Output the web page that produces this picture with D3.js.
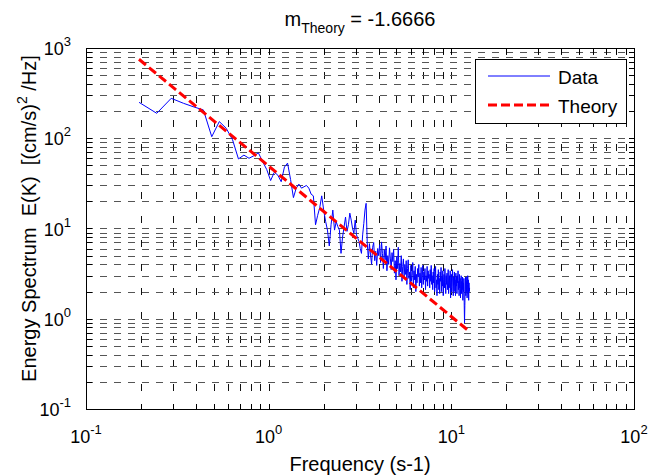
<!DOCTYPE html>
<html>
<head>
<meta charset="utf-8">
<script src="https://cdn.jsdelivr.net/npm/d3@7"></script>
<style>
    body { margin: 0; background: #fff; }
    svg text { font-family: Arial, "Liberation Sans", Helvetica, sans-serif; fill: #000; }
</style>
</head>
<body>
<div id="chart"></div>
<script>

// Spectrum bins: index of the first bin and bin width (Hz)
const firstBin = 4;
const binWidth = 0.0488;

// Measured energy spectrum, one value per bin
const spectrumValues = [
    250, 189, 277, 244, 222, 206, 104, 153, 129, 96,
    59, 65, 60, 64, 69, 55, 45, 34, 42, 39,
    33, 48, 53, 35, 22, 28, 31, 28, 29, 30,
    28, 24, 23, 11, 14, 17, 23, 16, 12, 9.6,
    6.4, 11, 16, 9.6, 11.9, 10.5, 9.6, 5.3, 8, 10.4,
    13.4, 9.3, 11, 14.8, 12.4, 10, 8.9, 12.4, 8.5, 7.8,
    7.2, 6, 5.3, 8.5, 11.4, 16, 19, 6.9,
    4.6, 6.8, 5.1, 4.0, 6.2, 7.0, 4.4, 5.6, 3.9, 6.0, 5.0, 6.6,
    4.2, 7.1, 5.3, 3.6, 5.8, 4.5, 6.4, 3.4, 5.0, 4.0, 6.1, 4.7, 3.5, 5.4, 4.3,
    5.9, 3.2, 4.4, 2.7, 4.9, 3.6, 6.2, 3.0, 4.1, 3.3, 5.0, 2.6, 3.8, 4.6, 2.9, 4.0, 3.1, 4.4,
    2.4, 3.6, 4.5, 2.8, 3.3, 2.1, 3.9, 2.6, 3.0, 4.2, 2.2, 3.4, 2.7, 3.8, 2.0, 3.1, 2.5, 3.6, 2.9, 4.0, 2.3,
    3.2, 2.5, 3.7, 2.2, 2.9, 3.9, 2.4, 3.3, 2.7, 3.6, 2.1, 3.0, 2.6, 3.8, 2.3, 3.4, 2.8, 3.1, 2.2, 3.5,
    2.6, 3.9, 2.4, 3.0, 2.1, 3.3,
    2.5, 3.6, 2.0, 2.9, 3.8, 2.2, 2.7, 1.8, 3.1, 2.4, 3.5, 2.1, 2.8, 1.9, 3.3, 2.6, 3.7, 2.0, 2.9, 2.3,
    3.4, 1.8, 2.7, 3.1, 2.2, 3.6, 2.5, 1.9, 3.0, 2.4,
    3.2, 2.1, 2.7, 3.5, 1.9, 2.6, 3.0, 2.2, 3.4, 1.7, 2.5, 3.1, 2.0, 2.8, 3.5, 2.3, 1.8, 2.9, 2.4, 3.3,
    2.0, 2.7, 1.8, 3.2, 2.3, 2.9, 1.9, 3.0, 2.5, 3.4, 2.1, 2.6, 1.8, 3.1,
    2.2, 2.8, 1.7, 2.4, 3.0, 1.9, 2.6, 2.1, 2.9, 1.6, 2.5, 2.0, 2.8, 1.5, 0.9, 1.4, 2.3, 2.9, 1.8, 2.6,
    2.0, 2.9, 1.7, 2.4, 3.0, 1.9, 2.7, 1.6, 2.5, 2.0, 2.2
];

// Theory line end points (slope -5/3 on log-log axes)
const theoryFreq = [0.195, 12.59];
const theoryValues = [750, 0.72];

// Axis ticks
const xTickExponents = [-1, 0, 1, 2];
const yTickExponents = [-1, 0, 1, 2, 3];
const minorMultipliers = [2, 3, 4, 5, 6, 7, 8, 9];

const legendLabels = ["Data", "Theory"];


class SpectrumChart {

    constructor(_parentElement) {
        this.parentElement = _parentElement;

        this.fontSize = 20;
        this.tickFontSize = 18;
        this.initVis();
    }

    initVis() {
        let vis = this;

        // Set margin
        vis.margin = { top: 48, right: 17, bottom: 66, left: 86 };

        vis.width = 651 - vis.margin.left - vis.margin.right;
        vis.height = 475 - vis.margin.top - vis.margin.bottom;

        vis.svg = d3.select("#" + vis.parentElement).append("svg")
            .attr("width", vis.width + vis.margin.left + vis.margin.right)
            .attr("height", vis.height + vis.margin.top + vis.margin.bottom)
            .append("g")
            .attr("transform", "translate(" + vis.margin.left + "," + vis.margin.top + ")");

        vis.x = d3.scaleLog()
            .domain([Math.pow(10, xTickExponents[0]), Math.pow(10, xTickExponents[xTickExponents.length - 1])])
            .range([0, vis.width]);

        vis.y = d3.scaleLog()
            .domain([Math.pow(10, yTickExponents[0]), Math.pow(10, yTickExponents[yTickExponents.length - 1])])
            .range([vis.height, 0]);

        vis.svg.append("defs").append("clipPath")
            .attr("id", "plot-clip")
            .append("rect")
            .attr("width", vis.width)
            .attr("height", vis.height);

        vis.wrangleData();
    }

    wrangleData() {
        let vis = this;

        vis.displayData = spectrumValues.map((v, i) => ({ f: (firstBin + i) * binWidth, v: v }));
        vis.theoryData = theoryFreq.map((f, i) => ({ f: f, v: theoryValues[i] }));

        // major + minor tick values for each log axis
        let allTicks = (exps) => {
            let out = [];
            exps.forEach((e, i) => {
                out.push({ v: Math.pow(10, e), major: true, e: e });
                if (i < exps.length - 1) {
                    minorMultipliers.forEach(m => out.push({ v: m * Math.pow(10, e), major: false }));
                }
            });
            return out;
        };
        vis.xTicks = allTicks(xTickExponents);
        vis.yTicks = allTicks(yTickExponents);

        vis.updateVis();
    }

    updateVis() {
        let vis = this;
        let px = v => Math.round(vis.x(v)) + 0.5;
        let py = v => Math.round(vis.y(v)) + 0.5;

        // Grid
        vis.svg.append("g").attr("class", "grid-x")
            .selectAll("line")
            .data(vis.xTicks)
            .enter().append("line")
            .attr("x1", d => px(d.v)).attr("x2", d => px(d.v))
            .attr("y1", 0).attr("y2", vis.height)
            .attr("stroke", "#111")
            .attr("stroke-dasharray", "7,17")
            .attr("shape-rendering", "crispEdges");

        vis.svg.append("g").attr("class", "grid-y")
            .selectAll("line")
            .data(vis.yTicks)
            .enter().append("line")
            .attr("x1", 0).attr("x2", vis.width)
            .attr("y1", d => py(d.v)).attr("y2", d => py(d.v))
            .attr("stroke", "#555")
            .attr("stroke-dasharray", "7,7")
            .attr("shape-rendering", "crispEdges");

        // Lines
        let line = d3.line()
            .x(d => vis.x(d.f))
            .y(d => vis.y(d.v));

        let plot = vis.svg.append("g").attr("clip-path", "url(#plot-clip)");

        plot.append("path")
            .datum(vis.displayData)
            .attr("fill", "none")
            .attr("stroke", "#0000ff")
            .attr("stroke-width", 1)
            .attr("d", line);

        plot.append("path")
            .datum(vis.theoryData)
            .attr("fill", "none")
            .attr("stroke", "#ff0000")
            .attr("stroke-width", 3)
            .attr("stroke-dasharray", "9,4")
            .attr("d", line);

        // Box
        vis.svg.append("rect")
            .attr("x", 0.5).attr("y", 0.5)
            .attr("width", vis.width).attr("height", vis.height)
            .attr("fill", "none")
            .attr("stroke", "#000")
            .attr("shape-rendering", "crispEdges");

        // Tick marks on all four sides, pointing inward
        let tickLen = 5.5;
        let ticks = vis.svg.append("g").attr("class", "ticks")
            .attr("stroke", "#000")
            .attr("shape-rendering", "crispEdges");

        vis.xTicks.forEach(d => {
            ticks.append("line").attr("x1", px(d.v)).attr("x2", px(d.v)).attr("y1", vis.height).attr("y2", vis.height - tickLen);
            ticks.append("line").attr("x1", px(d.v)).attr("x2", px(d.v)).attr("y1", 0).attr("y2", tickLen);
        });
        vis.yTicks.forEach(d => {
            ticks.append("line").attr("y1", py(d.v)).attr("y2", py(d.v)).attr("x1", 0).attr("x2", tickLen);
            ticks.append("line").attr("y1", py(d.v)).attr("y2", py(d.v)).attr("x1", vis.width).attr("x2", vis.width - tickLen);
        });

        // Tick labels
        let powerLabel = (sel, e) => {
            sel.append("tspan").text("10");
            sel.append("tspan").attr("dy", -9).attr("font-size", 13).text(e);
        };

        vis.svg.append("g").attr("class", "x-labels")
            .selectAll("text")
            .data(vis.xTicks.filter(d => d.major))
            .enter().append("text")
            .attr("x", d => vis.x(d.v))
            .attr("y", vis.height + 34)
            .attr("text-anchor", "middle")
            .attr("font-size", vis.tickFontSize)
            .each(function (d) { powerLabel(d3.select(this), d.e); });

        vis.svg.append("g").attr("class", "y-labels")
            .selectAll("text")
            .data(vis.yTicks.filter(d => d.major))
            .enter().append("text")
            .attr("x", -15)
            .attr("y", d => vis.y(d.v) + 7)
            .attr("text-anchor", "end")
            .attr("font-size", vis.tickFontSize)
            .each(function (d) { powerLabel(d3.select(this), d.e); });

        // Title
        let title = vis.svg.append("text")
            .attr("x", vis.width / 2)
            .attr("y", -22)
            .attr("text-anchor", "middle")
            .attr("font-size", vis.fontSize);
        title.append("tspan").text("m");
        title.append("tspan").attr("dy", 7).attr("font-size", 14).text("Theory");
        title.append("tspan").attr("dy", -7).text(" = -1.6666");

        // Axis titles
        vis.svg.append("text")
            .attr("x", vis.width / 2)
            .attr("y", vis.height + 62)
            .attr("text-anchor", "middle")
            .attr("font-size", vis.fontSize)
            .text("Frequency (s-1)");

        let ylab = vis.svg.append("text")
            .attr("transform", "translate(-50," + (vis.height / 2 - 10) + ") rotate(-90)")
            .attr("text-anchor", "middle")
            .attr("font-size", vis.fontSize)
            .attr("xml:space", "preserve");
        ylab.append("tspan").text("Energy Spectrum  E(K)  [(cm/s)");
        ylab.append("tspan").attr("dy", -9).attr("font-size", 14).text("2");
        ylab.append("tspan").attr("dy", 9).text(" /Hz]");

        // Legend
        let legend = vis.svg.append("g")
            .attr("class", "legend")
            .attr("transform", "translate(389,11)");

        legend.append("rect")
            .attr("x", 0.5).attr("y", 0.5)
            .attr("width", 151).attr("height", 64)
            .attr("fill", "#fff")
            .attr("stroke", "#000")
            .attr("shape-rendering", "crispEdges");

        let legendStyles = [
            { stroke: "#0000ff", width: 1, dash: null },
            { stroke: "#ff0000", width: 3, dash: "9,4" }
        ];

        legendLabels.forEach((label, i) => {
            let ly = 17 + i * 29;
            legend.append("line")
                .attr("x1", 13).attr("x2", 75)
                .attr("y1", ly).attr("y2", ly)
                .attr("stroke", legendStyles[i].stroke)
                .attr("stroke-width", legendStyles[i].width)
                .attr("stroke-dasharray", legendStyles[i].dash);
            legend.append("text")
                .attr("x", 83)
                .attr("y", ly + 8)
                .attr("font-size", 19)
                .text(label);
        });
    }
}

new SpectrumChart("chart");

</script>
</body>
</html>
